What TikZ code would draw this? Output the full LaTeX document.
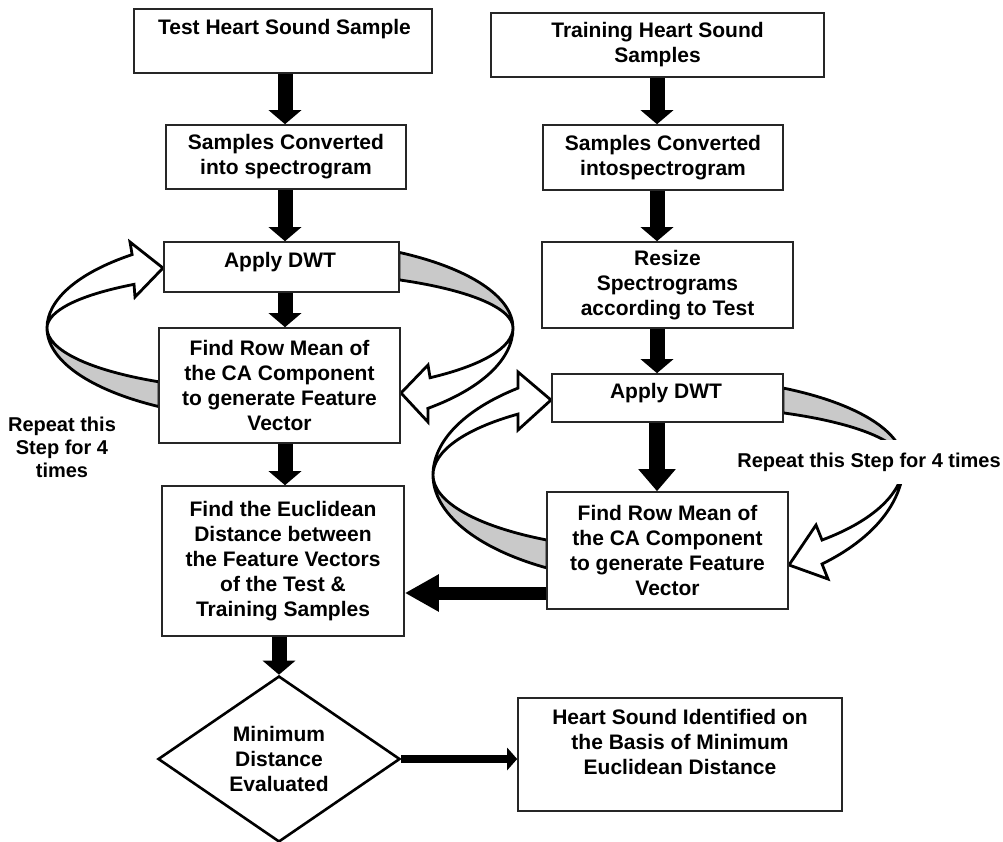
\documentclass[tikz,border=0pt]{standalone}
\usepackage{fontspec}
\setmainfont{Liberation Sans}
\usetikzlibrary{arrows.meta,shapes.geometric,calc}
\newcommand\boxfont{\fontsize{21}{25}\selectfont\bfseries}
\newcommand\lblfont{\fontsize{20}{23}\selectfont\bfseries}
\begin{document}
\begin{tikzpicture}[x=1pt,y=-1pt,
  box/.style={draw=black!85, line width=1.6pt, fill=white, inner sep=0pt, font=\boxfont, align=center},
  txt/.style={inner sep=0pt, font=\boxfont, align=center},
  lbl/.style={inner sep=0pt, font=\lblfont, align=center},
  bigarrow/.style={line width=15pt, -{Triangle[length=14pt,width=32pt]}},
  bigarrowb/.style={line width=16pt, -{Triangle[length=22pt,width=36pt]}},
  harrow/.style={line width=13pt, -{Triangle[length=34pt,width=35pt]}},
  thinarrow/.style={line width=8pt, -{Triangle[length=10pt,width=22pt]}},
  loopg/.style={fill=black!21, draw=black, line width=2.8pt, line join=round},
  loopw/.style={fill=white, draw=black, line width=2.8pt, line join=miter},
]
\useasboundingbox (0,0) rectangle (1003,841);
\coordinate (cL) at (280,328);
\coordinate (cR) at (667.5,475);
\coordinate (cS) at (667.5,463);
\coordinate (lx) at (285,0);
\coordinate (rx) at (657,0);
\coordinate (hy) at (0,593);

% left column, left loop
\filldraw[loopg] ($(cL)+(121.3:233 and 63)$) arc[start angle=121.3, end angle=180, x radius=233, y radius=63]
  arc[start angle=180, end angle=121.3, x radius=233, y radius=92] -- cycle;
\filldraw[loopw] ($(cL)+(180:233 and 95)$) arc[start angle=180, end angle=230.6, x radius=233, y radius=95]
  -- (130,242) -- (163,268) -- (135,297) -- ($(cL)+(231.2:233 and 56)$)
  arc[start angle=231.2, end angle=180, x radius=233, y radius=56] -- cycle;
% left column, right loop
\filldraw[loopg] ($(cL)+(-59.3:233 and 88)$) arc[start angle=-59.3, end angle=0, x radius=233, y radius=88]
  arc[start angle=0, end angle=-59.3, x radius=233, y radius=56] -- cycle;
\filldraw[loopw] ($(cL)+(0:233 and 104)$) arc[start angle=0, end angle=50.6, x radius=233, y radius=104]
  -- (428,422) -- (401,393) -- (428,365) -- ($(cL)+(49.9:233 and 65)$)
  arc[start angle=49.9, end angle=0, x radius=233, y radius=65] -- cycle;
% right column, left loop
\filldraw[loopg] ($(cR)+(120.9:234.5 and 75.8)$) arc[start angle=120.9, end angle=180, x radius=234.5, y radius=75.8]
  arc[start angle=180, end angle=120.9, x radius=234.5, y radius=108.4] -- cycle;
\filldraw[loopw] ($(cR)+(180:234.5 and 112.8)$) arc[start angle=180, end angle=230.4, x radius=234.5, y radius=112.8]
  -- (518,372) -- (551,400) -- (518,430) -- ($(cR)+(230.4:234.5 and 79.1)$)
  arc[start angle=230.4, end angle=180, x radius=234.5, y radius=79.1] -- cycle;
% right column, right loop
\filldraw[loopg] ($(cS)+(-60.7:236 and 86)$) arc[start angle=-60.7, end angle=0, x radius=236, y radius=86]
  arc[start angle=0, end angle=-60.7, x radius=236, y radius=57.5] -- cycle;
\filldraw[loopw] ($(cS)+(0:236 and 133.6)$) arc[start angle=0, end angle=49.1, x radius=236, y radius=133.6]
  -- (828,579) -- (789,565) -- (816,525) -- ($(cS)+(49.1:236 and 101.9)$)
  arc[start angle=49.1, end angle=0, x radius=236, y radius=101.9] -- cycle;

% boxes
\node[box, minimum width=298pt, minimum height=64pt] (test) at (283,41) {};
\node[txt, anchor=base] (testt) at (284.5,34) {Test Heart Sound Sample};
\node[box, minimum width=333pt, minimum height=64pt] (train) at (657.5,45) {Training Heart Sound\\Samples};
\node[box, minimum width=240pt, minimum height=64pt] (conv1) at (286,157) {Samples Converted\\into spectrogram};
\node[box, minimum width=240pt, minimum height=65pt] (conv2) at (663,157.5) {Samples Converted\\intospectrogram};
\node[box, minimum width=235pt, minimum height=50pt] (dwt1) at (281.5,267) {};
\node[txt, anchor=base] (dwt1t) at (280,267) {Apply DWT};
\node[box, minimum width=251pt, minimum height=86pt] (resize) at (667.5,285) {Resize\\Spectrograms\\according to Test};
\node[box, minimum width=241pt, minimum height=115pt] (rm1) at (279.5,385.5) {Find Row Mean of\\the CA Component\\to generate Feature\\Vector};
\node[box, minimum width=231pt, minimum height=48pt] (dwt2) at (667.5,398) {};
\node[txt, anchor=base] (dwt2t) at (666,398) {Apply DWT};
\node[box, minimum width=241pt, minimum height=117pt] (rm2) at (667.5,550.5) {Find Row Mean of\\the CA Component\\to generate Feature\\Vector};
\node[box, minimum width=242pt, minimum height=150pt] (euc) at (283,561) {Find the Euclidean\\Distance between\\the Feature Vectors\\of the Test \&\\Training Samples};
\node[diamond, draw=black, line width=2.6pt, fill=white, minimum width=242pt, minimum height=166pt, inner sep=0pt, aspect=1.46, font=\boxfont, align=center] (dia) at (279,759) {Minimum\\Distance\\Evaluated};
\node[box, minimum width=324pt, minimum height=113pt] (heart) at (680,754.5) {};
\node[txt] (heartt) at (680,741.5) {Heart Sound Identified on\\the Basis of Minimum\\Euclidean Distance};

% labels
\node[lbl] (rep1) at (62,447) {Repeat this\\Step for 4\\times};
\node[lbl, fill=white, inner xsep=1pt, inner ysep=13pt] (rep2) at (869,462) {Repeat this Step for 4 times};

% arrows
\draw[bigarrow] (test.south -| lx) -- (conv1.north -| lx);
\draw[bigarrow] (conv1.south -| lx) -- (dwt1.north -| lx);
\draw[bigarrow] (dwt1.south -| lx) -- (rm1.north -| lx);
\draw[bigarrow] (rm1.south -| lx) -- (euc.north -| lx);
\draw[bigarrow] (euc.south -| dia.north) -- (dia.north);
\draw[bigarrow] (train.south -| rx) -- (conv2.north -| rx);
\draw[bigarrow] (conv2.south -| rx) -- (resize.north -| rx);
\draw[bigarrow] (resize.south -| rx) -- (dwt2.north -| rx);
\draw[bigarrowb] (dwt2.south -| rx) -- (rm2.north -| rx);
\draw[harrow] (rm2.west |- hy) -- (euc.east |- hy);
\draw[thinarrow] (dia.east) -- (heart.west |- dia.east);
\end{tikzpicture}
\end{document}
